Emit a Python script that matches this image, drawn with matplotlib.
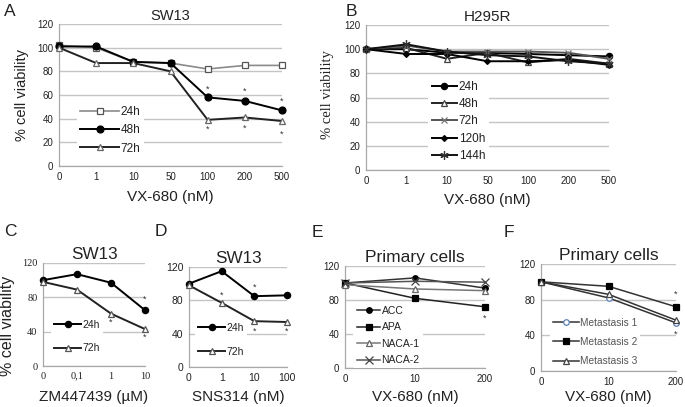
import matplotlib
matplotlib.use("Agg")
import matplotlib.pyplot as plt

plt.rcParams['font.family'] = ['Liberation Sans', 'DejaVu Sans']

W, H = 685, 407

# ---------------- data ----------------
a_cats = ["0", "1", "10", "50", "100", "200", "500"]
a_24h = [102, 100, 88, 87, 82, 85, 85]
a_48h = [101, 101, 88, 87, 58, 55, 47]
a_72h = [100, 87, 87, 80, 39, 41, 38]
a_star_x = [4, 4, 5, 5, 6, 6]
a_star_y = [65, 31, 63, 32, 55, 27]

b_cats = ["0", "1", "10", "50", "100", "200", "500"]
b_24h = [100, 100, 97, 97, 96, 95, 94]
b_48h = [100, 101, 92, 97, 89, 92, 88]
b_72h = [100, 103, 98, 98, 98, 97, 92]
b_120h = [100, 96, 96, 90, 90, 91, 87]
b_144h = [100, 104, 98, 95, 94, 90, 88]

c_cats = ["0", "0,1", "1", "10"]
c_24h = [100, 107, 97, 65]
c_72h = [98, 89, 61, 43]
c_star_x = [2, 3, 3]
c_star_y = [51, 78, 33]

d_cats = ["0", "1", "10", "100"]
d_24h = [100, 115, 85, 86]
d_72h = [98, 77, 55, 54]
d_star_x = [1, 2, 2, 3]
d_star_y = [86, 96, 43, 43]

e_cats = ["0", "10", "200"]
e_acc = [100, 106, 94]
e_apa = [100, 82, 72]
e_naca1 = [98, 93, 91]
e_naca2 = [100, 102, 101]
e_star_x = [2]
e_star_y = [58]

f_cats = ["0", "10", "200"]
f_met1 = [100, 82, 54]
f_met2 = [100, 95, 72]
f_met3 = [100, 86, 57]
f_star_x = [2, 2]
f_star_y = [86, 41]

fig = plt.figure(figsize=(W / 100, H / 100), dpi=100)
fig.patch.set_facecolor('white')

GRID = '#c4c4c4'
SPINE = '#a8a8a8'
TXT = '#222222'


def make_ax(left, right, top, bottom, cats, yticks, tickfont=None, tfs=7):
    ax = fig.add_axes([left / W, 1 - bottom / H, (right - left) / W, (bottom - top) / H])
    ax.set_xlim(0, len(cats) - 1)
    ax.set_ylim(0, 120)
    ax.set_xticks(range(len(cats)))
    ax.set_xticklabels(cats)
    ax.set_yticks(yticks)
    for s in ['top', 'right']:
        ax.spines[s].set_visible(False)
    for s in ['left', 'bottom']:
        ax.spines[s].set_color(SPINE)
        ax.spines[s].set_linewidth(0.9)
    ax.tick_params(length=0, labelsize=tfs, pad=4, colors=TXT)
    if tickfont:
        for lab in ax.get_xticklabels() + ax.get_yticklabels():
            lab.set_family(tickfont)
    ax.yaxis.grid(True, color=GRID, linewidth=1.0)
    ax.set_axisbelow(True)
    return ax


def series(ax, y, marker, mfc, mec, lc, ms=4.5, lw=1.4, label=None):
    ax.plot(range(len(y)), y, color=lc, lw=lw, marker=marker, ms=ms,
            mfc=mfc, mec=mec, mew=0.9, clip_on=False, zorder=3, label=label)


def stars(ax, xs, ys):
    for x, y in zip(xs, ys):
        ax.text(x, y, '*', ha='center', va='center', fontsize=6.5, color='#333333')


def legend(ax, loc_xy, fs=8, hl=2.2, sp=0.55, tc=TXT):
    lg = ax.legend(loc='upper left', bbox_to_anchor=loc_xy, frameon=True,
                   fontsize=fs, handlelength=hl, handletextpad=0.1,
                   labelspacing=sp, borderpad=0.3, borderaxespad=0)
    lg.get_frame().set_facecolor('white')
    lg.get_frame().set_edgecolor('none')
    lg.get_frame().set_alpha(1)
    for t in lg.get_texts():
        t.set_color(tc)
    return lg


def place(ax, xlab_y, ylab_x=None, ylab_y=None):
    # xlab_y / ylab_x / ylab_y given in figure pixels
    pos = ax.get_position()
    x0, y0, w, h = pos.x0 * W, (1 - pos.y1) * H, pos.width * W, pos.height * H
    ax.xaxis.set_label_coords(0.5, (y0 + h - xlab_y) / h)
    ax.xaxis.label.set_va('center')
    if ylab_x is not None:
        yy = 0.5 if ylab_y is None else (y0 + h - ylab_y) / h
        ax.yaxis.set_label_coords((ylab_x - x0) / w, yy)
        ax.yaxis.label.set_va('center')


# ---- Panel A ----
axA = make_ax(59, 282, 24, 166, a_cats, range(0, 121, 20))
series(axA, a_24h, 's', 'white', '#555555', '#8a8a8a', ms=4.5, lw=1.2, label='24h')
series(axA, a_48h, 'o', 'black', 'black', 'black', ms=5, label='48h')
series(axA, a_72h, '^', 'white', '#666666', '#222222', ms=4.5, label='72h')
stars(axA, a_star_x, a_star_y)
legend(axA, (0.08, 0.45), fs=8.5, hl=3.3, sp=0.55)
axA.set_title('SW13', fontsize=10.5, pad=3, color=TXT)
axA.set_xlabel('VX-680 (nM)', fontsize=11, color=TXT)
axA.set_ylabel('% cell viability', fontsize=10.5, color=TXT)
place(axA, 197, 22)

# ---- Panel B ----
axB = make_ax(366, 609, 25, 170, b_cats, range(0, 121, 20))
series(axB, b_24h, 'o', 'black', 'black', 'black', ms=4.5, label='24h')
series(axB, b_48h, '^', 'white', '#444444', '#222222', ms=4.5, label='48h')
series(axB, b_72h, 'x', 'none', '#777777', '#555555', ms=5, label='72h')
series(axB, b_120h, 'D', 'black', 'black', 'black', ms=3, label='120h')
series(axB, b_144h, (6, 2, 0), 'none', '#333333', '#111111', ms=6, label='144h')
legend(axB, (0.255, 0.64), fs=8.5, hl=2.2, sp=0.45)
axB.set_title('H295R', fontsize=11, pad=3, color=TXT)
axB.set_xlabel('VX-680 (nM)', fontsize=11, color=TXT)
axB.set_ylabel('% cell viability', fontsize=10.5, color=TXT, family='Liberation Serif')
place(axB, 200, 328, 95)

# ---- Panel C ----
axC = make_ax(43, 145, 263, 366, c_cats, [0, 40, 80, 120], tickfont='Liberation Serif', tfs=7.5)
series(axC, c_24h, 'o', 'black', 'black', 'black', ms=4.5, label='24h')
series(axC, c_72h, '^', 'white', '#555555', '#222222', ms=4.5, label='72h')
stars(axC, c_star_x, c_star_y)
legend(axC, (0.08, 0.48), fs=7.5, hl=2.6, sp=1.3)
axC.set_title('SW13', fontsize=12.3, pad=3, color=TXT)
axC.set_xlabel('ZM447439 (µM)', fontsize=11, color=TXT)
axC.set_ylabel('% cell viability', fontsize=11.5, color=TXT)
place(axC, 397, 8, 326)

# ---- Panel D ----
axD = make_ax(189, 287, 267, 367, d_cats, [0, 40, 80, 120], tfs=7.5)
series(axD, d_24h, 'o', 'black', 'black', 'black', ms=4.5, label='24h')
series(axD, d_72h, '^', 'white', '#555555', '#222222', ms=4.5, label='72h')
stars(axD, d_star_x, d_star_y)
legend(axD, (0.06, 0.47), fs=7.5, hl=2.6, sp=1.3)
axD.set_title('SW13', fontsize=12.3, pad=3, color=TXT)
axD.set_xlabel('SNS314 (nM)', fontsize=11, color=TXT)
place(axD, 397)

# ---- Panel E ----
axE = make_ax(345, 485, 266, 368, e_cats, [0, 40, 80, 120])
series(axE, e_acc, 'o', 'black', 'black', '#333333', ms=4, lw=1.1, label='ACC')
series(axE, e_apa, 's', 'black', 'black', '#222222', ms=4, lw=1.1, label='APA')
series(axE, e_naca1, '^', 'white', '#666666', '#777777', ms=4.5, lw=1.1, label='NACA-1')
series(axE, e_naca2, 'x', 'none', '#444444', '#555555', ms=5.5, lw=1.1, label='NACA-2')
stars(axE, e_star_x, e_star_y)
legend(axE, (0.06, 0.64), fs=7.5, hl=2.3, sp=0.62)
axE.set_title('Primary cells', fontsize=12.5, pad=3, color=TXT)
axE.set_xlabel('VX-680 (nM)', fontsize=11, color=TXT)
place(axE, 397)

# ---- Panel F ----
axF = make_ax(541, 676, 264, 371, f_cats, [0, 40, 80, 120])
series(axF, f_met1, 'o', 'white', '#5b7fb5', '#333333', ms=4, lw=1.1, label='Metastasis 1')
series(axF, f_met2, 's', 'black', 'black', '#333333', ms=4, lw=1.1, label='Metastasis 2')
series(axF, f_met3, '^', 'white', '#444444', '#333333', ms=4.5, lw=1.1, label='Metastasis 3')
stars(axF, f_star_x, f_star_y)
legend(axF, (0.07, 0.525), fs=7.3, hl=2.5, sp=0.9, tc='#555555')
axF.set_title('Primary cells', fontsize=12.5, pad=3, color=TXT)
axF.set_xlabel('VX-680 (nM)', fontsize=11, color=TXT)
place(axF, 397)

# ---- panel letters ----
for lab, x, y in [('A', 10, 11), ('B', 351, 11), ('C', 10, 231), ('D', 161, 231),
                  ('E', 317, 232), ('F', 509, 232)]:
    fig.text(x / W, 1 - y / H, lab, fontsize=12.5, ha='center', va='center', color=TXT)

fig.savefig('out.png', dpi=100)
